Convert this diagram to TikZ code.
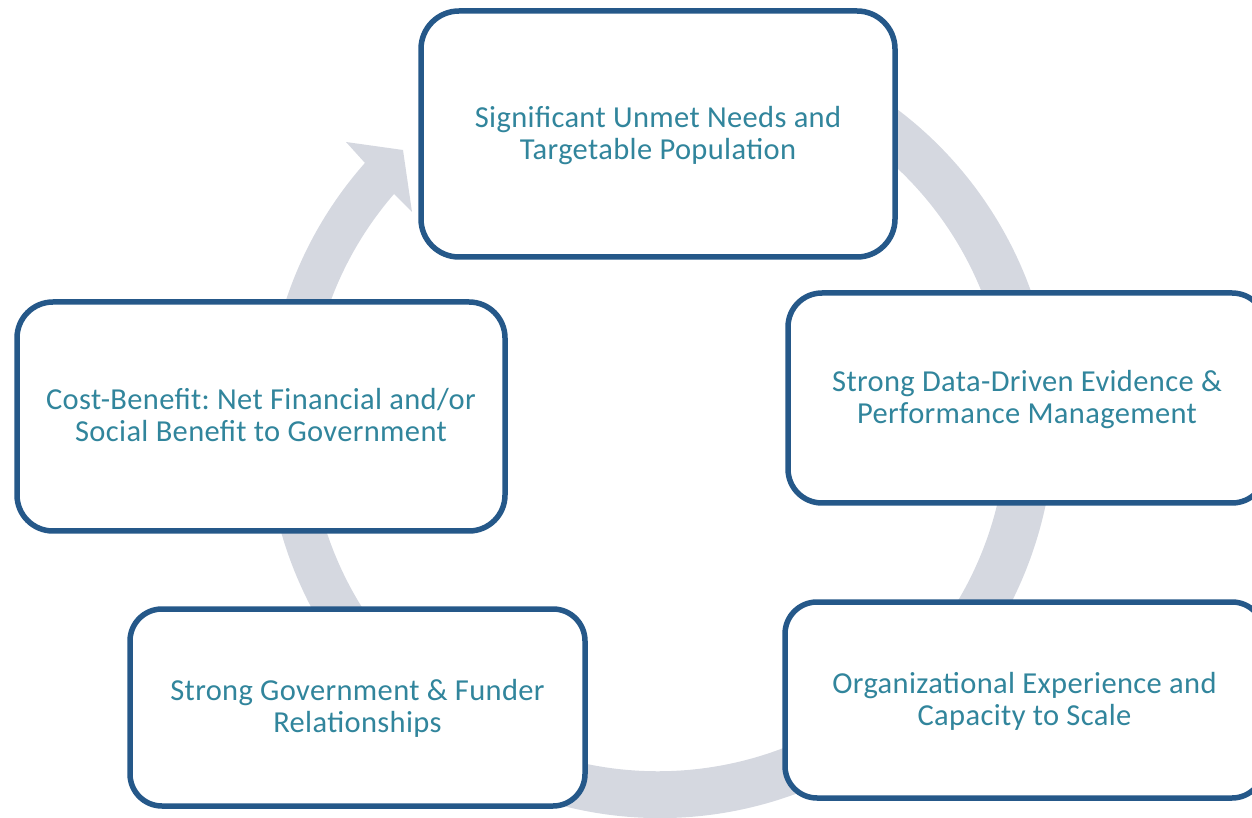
\documentclass[tikz,border=0pt]{standalone}
\usepackage{fontspec}
\setmainfont{Carlito}[LetterSpace=1.2]
\definecolor{boxblue}{RGB}{37,88,137}
\definecolor{txtteal}{RGB}{49,133,156}
\definecolor{ringgray}{RGB}{213,216,224}
\newcommand\stagetext[2]{\raisebox{-3pt}[\height][\depth]{\begin{tabular}{@{}c@{}}#1\\#2\end{tabular}}}
\begin{document}
\frenchspacing
\begin{tikzpicture}[x=1pt,y=1pt,
  stagebox/.style={draw=boxblue, line width=5.5pt, fill=white,
    text=txtteal, font=\fontsize{30.5}{32}\selectfont, inner sep=0pt}]
\useasboundingbox (0,0) rectangle (1252,817);
\clip (0,0) rectangle (1252,817);
% ring with arrow head
\fill[ringgray] ([shift={(660,393)}]70:394) arc[start angle=70,end angle=-221.5,radius=394]
  -- (346,675) -- (403,667) -- (412,605) -- (394,623)
  arc[start angle=-220.85,end angle=70,radius=349] -- cycle;
% stages
\node[stagebox, minimum width=474, minimum height=246, rounded corners=38] (n1) at (658,683)
  {\stagetext{Significant Unmet Needs and}{Targetable Population}};
\node[stagebox, minimum width=478, minimum height=210, rounded corners=34] (n2) at (1027,419)
  {\stagetext{Strong Data-Driven Evidence \&}{Performance Management}};
\node[stagebox, minimum width=479, minimum height=196, rounded corners=32] (n3) at (1024.5,117)
  {\stagetext{Organizational Experience and}{Capacity to Scale}};
\node[stagebox, minimum width=455, minimum height=197, rounded corners=32] (n4) at (357.5,109.5)
  {\stagetext{Strong Government \& Funder}{Relationships}};
\node[stagebox, minimum width=488, minimum height=229, rounded corners=36] (n5) at (261,400.5)
  {\stagetext{Cost-Benefit: Net Financial and/or}{Social Benefit to Government}};
\end{tikzpicture}
\end{document}
